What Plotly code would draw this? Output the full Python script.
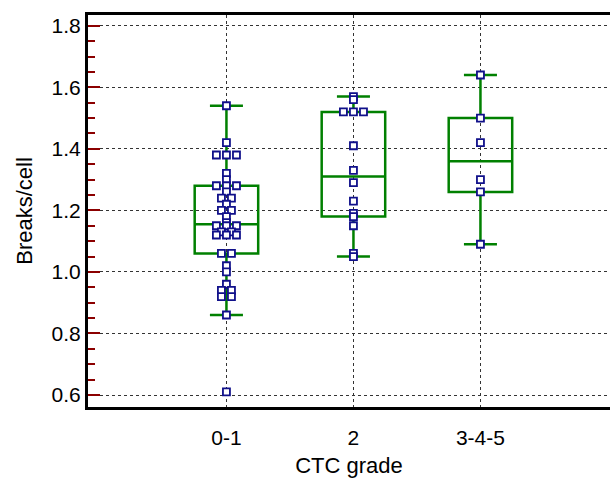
import plotly.graph_objects as go
from collections import Counter

categories = ["0-1", "2", "3-4-5"]

grade01 = [1.54, 1.42, 1.38, 1.38, 1.38, 1.32, 1.30, 1.28, 1.28, 1.28, 1.26,
           1.24, 1.24, 1.22, 1.20, 1.20, 1.18, 1.16, 1.15, 1.15, 1.15,
           1.13, 1.13, 1.12, 1.12, 1.12, 1.06, 1.06, 1.02, 1.00, 0.96,
           0.94, 0.94, 0.92, 0.92, 0.86, 0.61]
grade2 = [1.57, 1.56, 1.52, 1.52, 1.52, 1.41, 1.33, 1.29, 1.23, 1.19,
          1.18, 1.15, 1.06, 1.05]
grade345 = [1.64, 1.50, 1.42, 1.30, 1.26, 1.09]

# box summary statistics
q1 = [1.06, 1.18, 1.26]
median = [1.155, 1.31, 1.36]
q3 = [1.28, 1.52, 1.50]
lowerfence = [0.86, 1.05, 1.09]
upperfence = [1.54, 1.57, 1.64]

yticks = [0.6, 0.8, 1.0, 1.2, 1.4, 1.6, 1.8]

GREEN = "#008000"
NAVY = "#10108a"
TICKRED = "#8b0000"
DODGE = 0.079  # horizontal spacing between tied points (x units)

fig = go.Figure()

fig.add_trace(go.Box(
    x=[0, 1, 2], q1=q1, median=median, q3=q3,
    lowerfence=lowerfence, upperfence=upperfence,
    width=0.5, whiskerwidth=0.52,
    line=dict(color=GREEN, width=2.5), fillcolor="rgba(255,255,255,0)",
    boxpoints=False, hoverinfo="skip", showlegend=False,
))

groups = [grade01, grade2, grade345]
for gi, vals in enumerate(groups):
    cnt = Counter(vals)
    seen = Counter()
    xs, ys = [], []
    for v in vals:
        n = cnt[v]
        k = seen[v]
        seen[v] += 1
        xs.append(gi + (k - (n - 1) / 2) * DODGE)
        ys.append(v)
    fig.add_trace(go.Scatter(
        x=xs, y=ys, mode="markers",
        marker=dict(symbol="square", size=7, color="white",
                    line=dict(color=NAVY, width=1.8)),
        showlegend=False, hoverinfo="y",
    ))

FONT = "Liberation Sans, Arial, sans-serif"

fig.update_layout(
    width=610, height=478,
    margin=dict(l=88, r=0, t=15, b=71),
    plot_bgcolor="white", paper_bgcolor="white",
    font=dict(family=FONT, size=18, color="black"),
    showlegend=False,
)

fig.update_xaxes(
    range=[-1.09, 3.02],
    tickvals=[0, 1, 2], ticktext=categories,
    tickfont=dict(family=FONT, size=21, color="black"),
    ticks="", showgrid=True, gridcolor="#333", griddash="dot", gridwidth=1,
    zeroline=False, showline=True, linecolor="black", linewidth=3, mirror=True,
    ticklabelstandoff=10,
    title=dict(text="CTC grade", standoff=11, font=dict(family=FONT, size=22)),
)

fig.update_yaxes(
    range=[0.561, 1.835],
    tickvals=yticks, tickformat=".1f",
    tickfont=dict(family=FONT, size=21, color="black"),
    ticks="inside", ticklen=12, tickwidth=2, tickcolor=TICKRED,
    minor=dict(ticks="inside", ticklen=7, tickwidth=2, tickcolor=TICKRED,
               dtick=0.05, tick0=0.6, showgrid=False),
    showgrid=True, gridcolor="#333", griddash="dot", gridwidth=1,
    zeroline=False, showline=True, linecolor="black", linewidth=3,
    ticklabelstandoff=0,
    title=dict(text="Breaks/cell", standoff=13, font=dict(family=FONT, size=22)),
)

fig.write_html("out.html")
